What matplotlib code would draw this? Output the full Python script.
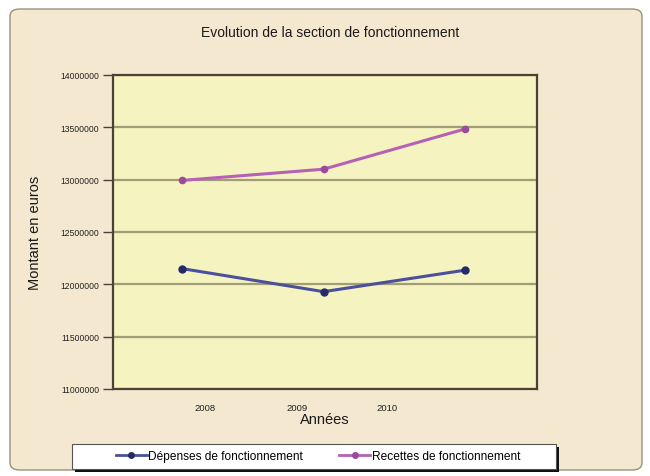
import matplotlib.pyplot as plt
from matplotlib.patches import FancyBboxPatch, Rectangle
from matplotlib.lines import Line2D

# data
years = ["2008", "2009", "2010"]
year_label_pos = [0.16, 0.81, 1.45]   # labels sit oddly off the points in the original
x_points = [0, 1, 2]
depenses = [12150000, 11930000, 12135000]
recettes = [12993000, 13100000, 13484000]
y_ticks = [11000000, 11500000, 12000000, 12500000, 13000000, 13500000, 14000000]

bg = "#f4e9d0"
plot_bg = "#f5f3c0"
grid_col = "#a39c78"
frame_col = "#4a4334"
blue = "#4b509c"
blue_mk = "#262a66"
pink = "#b562b4"
pink_mk = "#9c4a9a"

plt.rcParams['font.family'] = ['Liberation Sans', 'DejaVu Sans']

fig = plt.figure(figsize=(6.5, 4.77), dpi=100)
fig.patch.set_facecolor("white")

# rounded chart frame
frame = FancyBboxPatch((10/650, 6/477), 632/650, 461/477,
                       boxstyle="round,pad=0,rounding_size=0.015",
                       transform=fig.transFigure, facecolor=bg,
                       edgecolor="#9a9080", linewidth=1.0, zorder=-5)
fig.patches.append(frame)

ax = fig.add_axes([113/650, 1-390/477, 424/650, 314/477])
ax.set_facecolor(plot_bg)

ax.plot(x_points, depenses, color=blue, lw=2.2, marker="o", ms=5,
        mfc=blue_mk, mec=blue_mk, zorder=3)
ax.plot(x_points, recettes, color=pink, lw=2.2, marker="o", ms=4.5,
        mfc=pink_mk, mec=pink_mk, zorder=3)

ax.set_xlim(-0.49, 2.51)
ax.set_ylim(11000000, 14000000)
ax.set_yticks(y_ticks)
ax.set_yticklabels([str(v) for v in y_ticks], fontsize=6.2, color="#222222")
ax.set_xticks(year_label_pos)
ax.set_xticklabels(years, fontsize=6.8, color="#222222")
ax.tick_params(axis="x", length=0, pad=10)
ax.tick_params(axis="y", length=7, width=1.0, color=frame_col, pad=3)

ax.grid(axis="y", color=grid_col, lw=1.6)
ax.set_axisbelow(True)
for s in ax.spines.values():
    s.set_color(frame_col)
    s.set_linewidth(1.6)

ax.set_ylabel("Montant en euros", fontsize=10.5, labelpad=13, color="#1a1a1a")
ax.set_xlabel("Années", fontsize=10.5, labelpad=0, color="#1a1a1a")

fig.text(330/650, 1-33/477, "Evolution de la section de fonctionnement",
         ha="center", va="center", fontsize=10, color="#1a1a1a")

# legend box with dark shadow like the original
shadow = Rectangle((75/650, 1-473/477), 484/650, 25/477, transform=fig.transFigure,
                   facecolor="#111111", edgecolor="none", zorder=1)
box = Rectangle((72/650, 1-470/477), 484/650, 25/477, transform=fig.transFigure,
                facecolor="white", edgecolor="#555555", lw=0.8, zorder=2)
fig.patches.extend([shadow, box])

handles = [Line2D([], [], color=blue, lw=2, marker="o", ms=4, mfc=blue_mk, mec=blue_mk),
           Line2D([], [], color=pink, lw=2, marker="o", ms=4, mfc=pink_mk, mec=pink_mk)]
leg = fig.legend(handles, ["Dépenses de fonctionnement", "Recettes de fonctionnement"],
                 loc="center", bbox_to_anchor=(318/650, 1-457.5/477), ncol=2,
                 frameon=False, fontsize=8.6, handlelength=2.6, handletextpad=0.15,
                 columnspacing=3.0)
leg.set_zorder(5)

fig.savefig("out.png", dpi=100, facecolor=fig.get_facecolor())
